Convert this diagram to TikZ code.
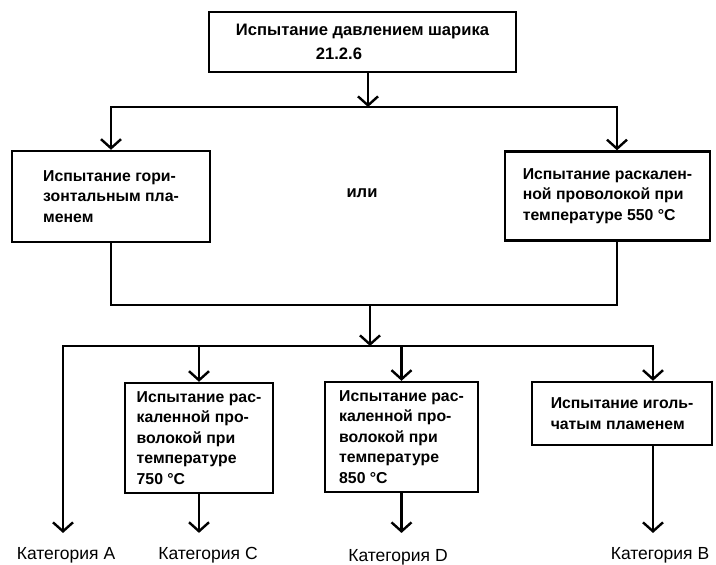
\documentclass[tikz,border=0pt]{standalone}
\usepackage{fontspec}
\setmainfont{Liberation Sans}
\usetikzlibrary{arrows.meta}
\tikzset{
  testbox/.style={draw, line width=2.4pt, align=left, inner sep=0pt,
    font=\bfseries\fontsize{15.8}{20.5}\selectfont},
  flow/.style={line width=2.4pt},
  flowarrow/.style={flow, -{Straight Barb[length=9pt,width=20pt]}},
  catlabel/.style={inner sep=0pt, font=\fontsize{17.5}{18}\selectfont},
}
\begin{document}
\begin{tikzpicture}[x=1pt,y=-1pt]
  \useasboundingbox (0,0) rectangle (716,565);
  % upper level
  \node[testbox, minimum width=307pt, minimum height=60pt,
    font=\bfseries\fontsize{16.6}{24}\selectfont] (ball) at (362.5,42)
    {Испытание давлением шарика\\\hspace*{80pt}21.2.6};
  \node[testbox, minimum width=198pt, minimum height=91pt] (horiz) at (111,196.5)
    {Испытание гори-\\зонтальным пла-\\менем};
  \node[font=\bfseries\fontsize{16.6}{18}\selectfont] (or) at (362,193) {или};
  \node[testbox, minimum width=205pt, minimum height=89pt] (wire550) at (607.5,196)
    {Испытание раскален-\\ной проволокой при\\температуре 550 °C};
  % lower level
  \node[testbox, minimum width=148pt, minimum height=110pt] (wire750) at (199,438)
    {Испытание рас-\\каленной про-\\волокой при\\температуре\\750 °C};
  \node[testbox, minimum width=153pt, minimum height=110pt] (wire850) at (401.5,437)
    {Испытание рас-\\каленной про-\\волокой при\\температуре\\850 °C};
  \node[testbox, minimum width=180pt, minimum height=63pt] (needle) at (622,413.5)
    {Испытание иголь-\\чатым пламенем};
  \node[catlabel] (catA) at (66,555) {Категория A};
  \node[catlabel] (catC) at (208,555) {Категория C};
  \node[catlabel] (catD) at (398,557) {Категория D};
  \node[catlabel] (catB) at (660,555) {Категория B};
  % connectors
  \coordinate (fork) at (368,107);
  \coordinate (merge) at (370,305);
  \coordinate (spread) at (370,346);
  \draw[flowarrow] (ball.south -| fork) -- (fork);
  \draw[flowarrow] (fork) -| (horiz.north);
  \draw[flowarrow] (fork) -| ([xshift=9.5pt]wire550.north);
  \draw[flow] (horiz.south) |- (merge) -| ([xshift=9.5pt]wire550.south);
  \draw[flowarrow] (merge) -- (spread);
  \draw[flowarrow, shorten >=14pt] (spread) -| ([xshift=-3pt]catA.north);
  \draw[flowarrow] (spread) -| (wire750.north);
  \draw[flowarrow] (spread) -| (wire850.north);
  \draw[flowarrow] (spread) -| ([xshift=31pt]needle.north);
  \draw[flowarrow, shorten >=14pt] (wire750.south) -- (wire750.south |- catC.north);
  \draw[flowarrow, shorten >=16pt] (wire850.south) -- (wire850.south |- catD.north);
  \draw[flowarrow, shorten >=14pt] ([xshift=31pt]needle.south) -- ([xshift=31pt]needle.south |- catB.north);
\end{tikzpicture}
\end{document}
